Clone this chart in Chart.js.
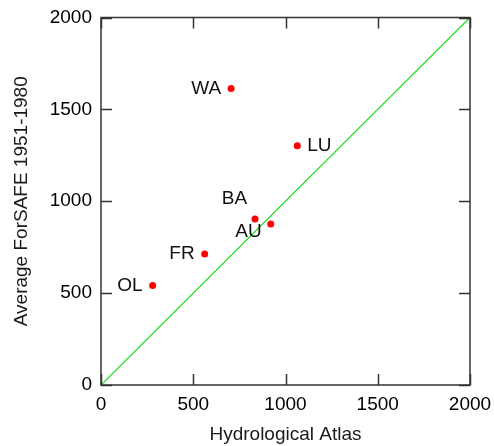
<!DOCTYPE html>
<html>
<head>
<meta charset="utf-8">
<script src="https://cdn.jsdelivr.net/npm/chart.js@4"></script>
<style>
  html, body { margin: 0; padding: 0; background: #fff; }
  #wrap { width: 494px; height: 446px; }
</style>
</head>
<body>
<div id="wrap"><canvas id="atlas"></canvas></div>
<script>
// sites, Hydrological Atlas vs average ForSAFE 1951-1980
const sites = ['WA', 'LU', 'BA', 'AU', 'FR', 'OL'];
const atlas = [705, 1064, 835, 920, 562, 280];
const forsafe = [1614, 1302, 903, 876, 713, 542];
const tickValues = [0, 500, 1000, 1500, 2000];

// where each site name sits relative to its dot
const labelPos = {
  WA: { dx: -10, dy: 0, align: 'right' },
  LU: { dx: 10, dy: 0, align: 'left' },
  BA: { dx: -8, dy: -20, align: 'right' },
  AU: { dx: -9, dy: 8, align: 'right' },
  FR: { dx: -10, dy: 0, align: 'right' },
  OL: { dx: -10, dy: 0, align: 'right' }
};

const font = "'Liberation Sans', Arial, sans-serif";

const frame = {
  id: 'frame',
  afterDatasetsDraw(chart) {
    const { ctx, chartArea: a, scales: { x, y } } = chart;
    ctx.save();
    ctx.strokeStyle = '#333';
    ctx.lineWidth = 1.5;
    ctx.strokeRect(a.left, a.top, a.right - a.left, a.bottom - a.top);
    tickValues.forEach(v => {
      const px = Math.round(x.getPixelForValue(v)) + 0.5;
      const py = Math.round(y.getPixelForValue(v)) + 0.5;
      ctx.beginPath();
      ctx.moveTo(px, a.bottom); ctx.lineTo(px, a.bottom - 11);
      ctx.moveTo(px, a.top); ctx.lineTo(px, a.top + 11);
      ctx.moveTo(a.left, py); ctx.lineTo(a.left + 11, py);
      ctx.moveTo(a.right, py); ctx.lineTo(a.right - 11, py);
      ctx.stroke();
    });

    // site names
    ctx.fillStyle = '#111';
    ctx.font = '19px ' + font;
    ctx.textBaseline = 'middle';
    sites.forEach((s, i) => {
      const p = labelPos[s];
      ctx.textAlign = p.align;
      ctx.fillText(s, x.getPixelForValue(atlas[i]) + p.dx, y.getPixelForValue(forsafe[i]) + p.dy);
    });
    ctx.restore();
  }
};

new Chart(document.getElementById('atlas'), {
  type: 'scatter',
  data: {
    datasets: [
      {
        // 1:1 line
        type: 'line',
        data: [{ x: 0, y: 0 }, { x: 2000, y: 2000 }],
        borderColor: '#11dd11',
        borderWidth: 1.2,
        pointRadius: 0,
        order: 2
      },
      {
        data: sites.map((s, i) => ({ x: atlas[i], y: forsafe[i] })),
        backgroundColor: '#ff0000',
        borderWidth: 0,
        pointRadius: 3.5,
        order: 1
      }
    ]
  },
  options: {
    responsive: true,
    maintainAspectRatio: false,
    animation: false,
    layout: { padding: { top: 17.5, right: 24, left: 0, bottom: 0 } },
    plugins: { legend: { display: false }, tooltip: { enabled: false } },
    scales: {
      x: {
        type: 'linear',
        min: 0, max: 2000,
        afterBuildTicks: s => { s.ticks = tickValues.map(v => ({ value: v })); },
        afterFit: s => { s.height = 61; s.paddingLeft = 0; s.paddingRight = 0; },
        grid: { display: false, drawTicks: false },
        border: { display: false },
        ticks: { color: '#000', padding: 8, maxRotation: 0, callback: v => String(v), font: { size: 19, family: font } },
        title: { display: true, text: 'Hydrological Atlas', color: '#1a1a1a', padding: 0, font: { size: 19, family: font } }
      },
      y: {
        type: 'linear',
        min: 0, max: 2000,
        afterBuildTicks: s => { s.ticks = tickValues.map(v => ({ value: v })); },
        afterFit: s => { s.width = 101; s.paddingTop = 0; s.paddingBottom = 0; },
        grid: { display: false, drawTicks: false },
        border: { display: false },
        ticks: { color: '#000', padding: 9, callback: v => String(v), font: { size: 19, family: font } },
        title: { display: true, text: 'Average ForSAFE 1951-1980', color: '#1a1a1a', padding: { top: 10, bottom: 0 }, font: { size: 19, family: font } }
      }
    }
  },
  plugins: [frame]
});
</script>
</body>
</html>
